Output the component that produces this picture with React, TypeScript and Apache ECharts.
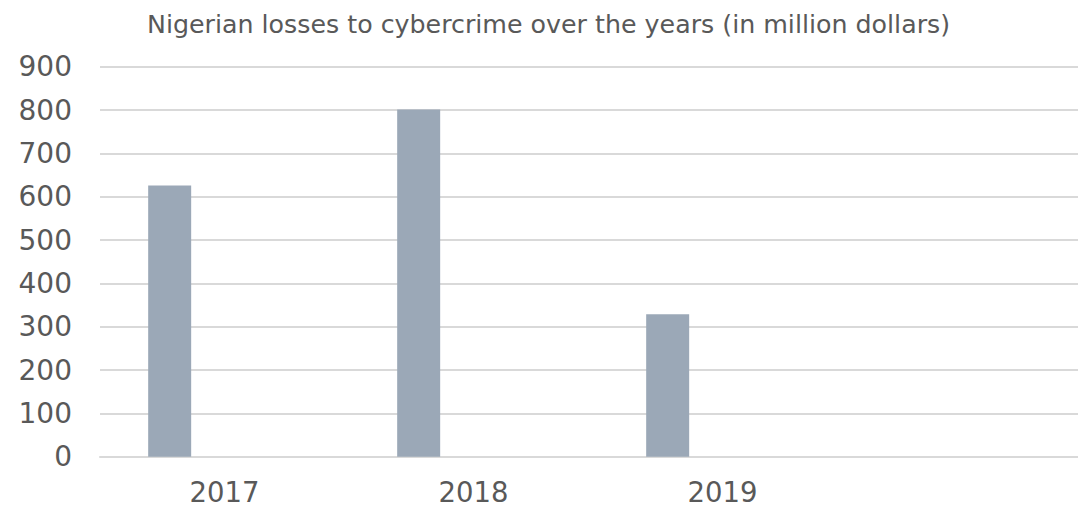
import React, { useEffect, useRef } from "react";
import * as echarts from "echarts";

const titleText = "Nigerian losses to cybercrime over the years (in million dollars)";
const categories = ["2017", "2018", "2019", ""];
const losses = [626, 801, 329, null];
const spacer = [null, null, null, null];
const yTicks = { min: 0, max: 900, interval: 100 };

export default function App() {
  const ref = useRef<HTMLDivElement>(null);
  useEffect(() => {
    if (!ref.current) return;
    const chart = echarts.init(ref.current, null, { renderer: "svg" });
    chart.setOption({
      animation: false,
      backgroundColor: "#ffffff",
      title: {
        text: titleText,
        left: 142,
        top: 7,
        textStyle: {
          fontFamily: "DejaVu Sans",
          fontSize: 25.3,
          fontWeight: "normal",
          color: "#595959",
        },
      },
      grid: {
        left: 100,
        right: -18,
        top: 66.7,
        bottom: 50.3,
        containLabel: false,
        outerBoundsMode: "none",
      },
      xAxis: {
        type: "category",
        data: categories,
        axisLine: { show: true, lineStyle: { color: "#D9D9D9", width: 2 } },
        axisTick: { show: false },
        axisLabel: {
          fontFamily: "DejaVu Sans",
          fontSize: 27.5,
          lineHeight: 22,
          color: "#595959",
          margin: 24,
        },
      },
      yAxis: {
        type: "value",
        min: yTicks.min,
        max: yTicks.max,
        interval: yTicks.interval,
        axisLine: { show: false },
        axisTick: { show: false },
        splitLine: { lineStyle: { color: "#D9D9D9", width: 2 } },
        axisLabel: {
          fontFamily: "DejaVu Sans",
          fontSize: 28,
          color: "#595959",
          margin: 28,
        },
      },
      series: [
        {
          type: "bar",
          data: losses,
          barWidth: 43,
          barGap: "155%",
          itemStyle: { color: "#9BA8B7" },
        },
        {
          type: "bar",
          data: spacer,
          barWidth: 43,
          itemStyle: { color: "#9BA8B7" },
        },
      ],
    });
    return () => chart.dispose();
  }, []);
  return <div ref={ref} style={{ width: 1078, height: 507, position: "absolute", left: 0, top: 0 }} />;
}
